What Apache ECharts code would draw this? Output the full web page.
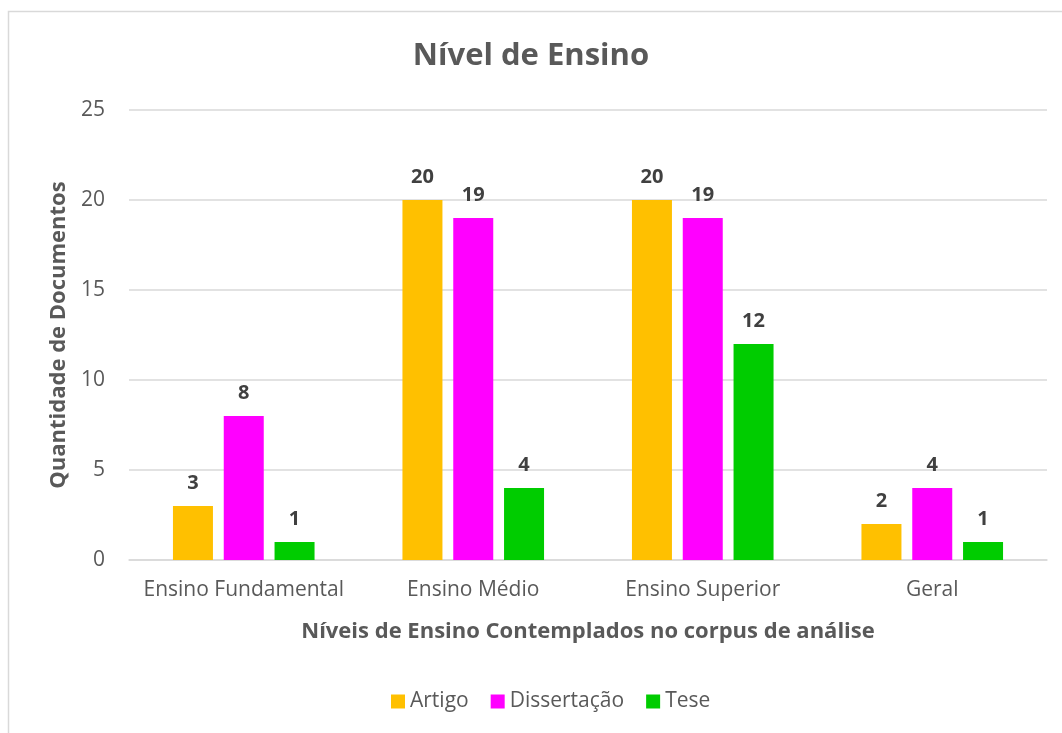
<!DOCTYPE html>
<html><head><meta charset="utf-8">
<script src="https://cdn.jsdelivr.net/npm/echarts@6/dist/echarts.min.js"></script>
<style>html,body{margin:0;padding:0;background:#fff}#c{width:1062px;height:733px}</style>
</head><body><div id="c"></div>
<script>
const categories = ['Ensino Fundamental', 'Ensino Médio', 'Ensino Superior', 'Geral'];
const artigo = [3, 20, 20, 2];
const dissertacao = [8, 19, 19, 4];
const tese = [1, 4, 12, 1];
const seriesNames = ['Artigo', 'Dissertação', 'Tese'];
const colors = ['#FFC000', '#FF00FF', '#00CC00'];
const font = 'Open Sans';
const chart = echarts.init(document.getElementById('c'));
const lbl = {show: true, position: 'top', distance: 13, color: '#404040', fontWeight: 'bold', fontSize: 20, fontFamily: font};
chart.setOption({
  animation: false,
  textStyle: {fontFamily: font},
  graphic: [{type: 'rect', shape: {x: 8.5, y: 11.5, width: 1080, height: 760}, style: {fill: 'none', stroke: '#d9d9d9', lineWidth: 1.5}, silent: true, z: -1}],
  title: {text: 'Nível de Ensino', left: 'center', top: 36, textStyle: {color: '#595959', fontSize: 31, fontWeight: 'bold', fontFamily: font}},
  legend: {data: seriesNames, bottom: 16, left: 386, itemWidth: 14, itemHeight: 14, itemGap: 22,
    icon: 'rect', textStyle: {color: '#595959', fontSize: 21, fontFamily: font}},
  grid: {left: 129, right: 15, top: 110, bottom: 173, containLabel: false},
  xAxis: {type: 'category', data: categories,
    axisLine: {lineStyle: {color: '#d9d9d9', width: 1.5}}, axisTick: {show: false},
    axisLabel: {color: '#595959', fontSize: 21, margin: 20, interval: 0, fontFamily: font},
    name: 'Níveis de Ensino Contemplados no corpus de análise', nameLocation: 'middle', nameGap: 61,
    nameTextStyle: {color: '#595959', fontSize: 22, fontWeight: 'bold', fontFamily: font}},
  yAxis: {type: 'value', min: 0, max: 25, interval: 5,
    axisLine: {show: false}, axisTick: {show: false},
    splitLine: {lineStyle: {color: '#d9d9d9', width: 1.5}},
    axisLabel: {color: '#595959', fontSize: 21, margin: 24, fontFamily: font},
    name: 'Quantidade de Documentos', nameLocation: 'middle', nameGap: 59,
    nameTextStyle: {color: '#595959', fontSize: 22, fontWeight: 'bold', fontFamily: font}},
  series: [
    {name: seriesNames[0], type: 'bar', data: artigo, itemStyle: {color: colors[0]}, label: lbl, barWidth: 40, barGap: '27%'},
    {name: seriesNames[1], type: 'bar', data: dissertacao, itemStyle: {color: colors[1]}, label: lbl, barWidth: 40, barGap: '27%'},
    {name: seriesNames[2], type: 'bar', data: tese, itemStyle: {color: colors[2]}, label: lbl, barWidth: 40, barGap: '27%'}
  ]
});
</script></body></html>
